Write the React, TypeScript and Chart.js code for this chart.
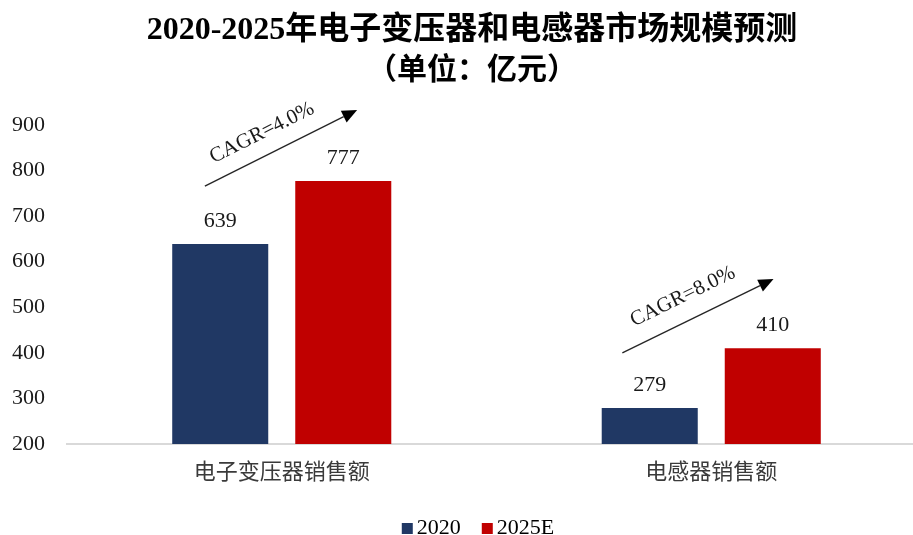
import React, { useEffect, useRef } from 'react';
import { Chart, registerables } from 'chart.js';

Chart.register(...registerables);

// ---------- data ----------
const categories = ['电子变压器销售额', '电感器销售额'];
const seriesNames = ['2020', '2025E'];
const values2020 = [639, 279];
const values2025E = [777, 410];
const yTicks = [200, 300, 400, 500, 600, 700, 800, 900];
const cagrLabels = ['CAGR=4.0%', 'CAGR=8.0%'];
const titleText = '2020-2025年电子变压器和电感器市场规模预测';
const subtitleText = '（单位：亿元）';

// ---------- annotation geometry (data units: category index, value) ----------
const ARROWS = [
  { x0: -0.179, y0: 766, x1: 0.1755, y1: 933, t: 0.44, off: 22 },
  { x0: 0.793, y0: 400, x1: 1.145, y1: 562, t: 0.47, off: 24 },
];

const COLORS = ['#203864', '#C00000'];
const SERIF = "'Liberation Serif', 'Times New Roman', 'Noto Sans CJK SC', serif";
const CJK = "'Liberation Serif', 'Noto Sans CJK SC', sans-serif";
const CANVAS_W = 944;
const CANVAS_H = 535;

const overlayPlugin = {
  id: 'overlay',
  afterDatasetsDraw(chart: any) {
    const ctx = chart.ctx;
    ctx.save();
    ctx.font = `22px ${SERIF}`;
    ctx.fillStyle = '#1a1a1a';
    ctx.textAlign = 'center';
    ctx.textBaseline = 'alphabetic';
    chart.data.datasets.forEach((ds: any, di: number) => {
      const meta = chart.getDatasetMeta(di);
      meta.data.forEach((bar: any, i: number) => {
        ctx.fillText(String(ds.data[i]), bar.x, bar.y - 17);
      });
    });
    ctx.restore();
  },
  afterDraw(chart: any) {
    const ctx = chart.ctx;
    const xs = chart.scales.x;
    const ys = chart.scales.y;
    ctx.save();

    // title (centred on the full canvas)
    ctx.fillStyle = '#000000';
    ctx.textAlign = 'center';
    ctx.textBaseline = 'middle';
    ctx.font = `bold 32px ${SERIF}`;
    ctx.fillText(titleText, chart.width / 2, 31);
    ctx.font = `bold 30px ${SERIF}`;
    ctx.fillText(subtitleText, chart.width / 2, 71);

    ARROWS.forEach((a, i) => {
      const px0 = xs.getPixelForValue(a.x0);
      const py0 = ys.getPixelForValue(a.y0);
      const px1 = xs.getPixelForValue(a.x1);
      const py1 = ys.getPixelForValue(a.y1);
      const dx = px1 - px0;
      const dy = py1 - py0;
      const len = Math.sqrt(dx * dx + dy * dy);
      const ux = dx / len;
      const uy = dy / len;
      const head = 15;
      const hw = 6.5;
      const bx = px1 - ux * head;
      const by = py1 - uy * head;
      ctx.strokeStyle = '#262626';
      ctx.fillStyle = '#000000';
      ctx.lineWidth = 1.4;
      ctx.beginPath();
      ctx.moveTo(px0, py0);
      ctx.lineTo(bx, by);
      ctx.stroke();
      ctx.beginPath();
      ctx.moveTo(px1, py1);
      ctx.lineTo(bx - uy * hw, by + ux * hw);
      ctx.lineTo(bx + uy * hw, by - ux * hw);
      ctx.closePath();
      ctx.fill();
      const nx = uy;
      const ny = -ux;
      const cx = px0 + dx * a.t + nx * a.off;
      const cy = py0 + dy * a.t + ny * a.off;
      ctx.save();
      ctx.translate(cx, cy);
      ctx.rotate(Math.atan2(dy, dx));
      ctx.font = `21px ${SERIF}`;
      ctx.fillStyle = '#1a1a1a';
      ctx.textAlign = 'center';
      ctx.textBaseline = 'middle';
      ctx.fillText(cagrLabels[i], 0, 0);
      ctx.restore();
    });

    // legend
    const items = chart.data.datasets.map((d: any) => ({ label: d.label, color: d.backgroundColor }));
    ctx.font = `22px ${SERIF}`;
    ctx.textBaseline = 'alphabetic';
    ctx.textAlign = 'left';
    const box = 11;
    const gapBox = 4;
    const gapItem = 21;
    const widths = items.map((it: any) => box + gapBox + ctx.measureText(it.label).width);
    const total = widths.reduce((s: number, w: number) => s + w, 0) + gapItem * (items.length - 1);
    let x = 478 - total / 2;
    const baseY = 534;
    items.forEach((it: any, i: number) => {
      ctx.fillStyle = it.color;
      ctx.fillRect(x, baseY - 11, box, box);
      ctx.fillStyle = '#000000';
      ctx.fillText(it.label, x + box + gapBox, baseY);
      x += widths[i] + gapItem;
    });
    ctx.restore();
  },
};

export default function App() {
  const ref = useRef<HTMLCanvasElement>(null);
  useEffect(() => {
    document.body.style.margin = '0';
    document.body.style.overflow = 'hidden';
    document.documentElement.style.overflow = 'hidden';
    const canvas = ref.current;
    if (!canvas) return;
    const chart = new Chart(canvas, {
      type: 'bar',
      data: {
        labels: categories,
        datasets: [
          {
            label: seriesNames[0],
            data: values2020,
            backgroundColor: COLORS[0],
            borderWidth: 0,
          },
          {
            label: seriesNames[1],
            data: values2025E,
            backgroundColor: COLORS[1],
            borderWidth: 0,
          },
        ],
      },
      options: {
        responsive: false,
        animation: false,
        categoryPercentage: 0.5729,
        barPercentage: 0.7805,
        layout: { padding: { left: 0, right: 18, top: 125, bottom: 35 } },
        plugins: {
          legend: { display: false },
          tooltip: { enabled: false },
          title: { display: false },
        },
        scales: {
          x: {
            type: 'category',
            offset: true,
            grid: { display: false, drawTicks: false },
            border: { display: true, color: '#D9D9D9', width: 2 },
            afterFit: (scale: any) => {
              scale.height = 56;
            },
            ticks: {
              autoSkip: false,
              maxRotation: 0,
              padding: 16,
              color: '#3a3a3a',
              font: { family: CJK, size: 22 },
            },
          },
          y: {
            min: yTicks[0],
            max: yTicks[yTicks.length - 1],
            grid: { display: false, drawTicks: false },
            border: { display: false },
            afterBuildTicks: (scale: any) => {
              scale.ticks = yTicks.map((v) => ({ value: v }));
            },
            afterFit: (scale: any) => {
              scale.width = 67;
            },
            ticks: {
              padding: 22,
              color: '#1a1a1a',
              font: { family: SERIF, size: 22 },
            },
          },
        },
      },
      plugins: [overlayPlugin],
    } as any);
    return () => chart.destroy();
  }, []);
  return (
    <div style={{ width: CANVAS_W, height: CANVAS_H }}>
      <canvas ref={ref} width={CANVAS_W} height={CANVAS_H} style={{ display: 'block' }} />
    </div>
  );
}
